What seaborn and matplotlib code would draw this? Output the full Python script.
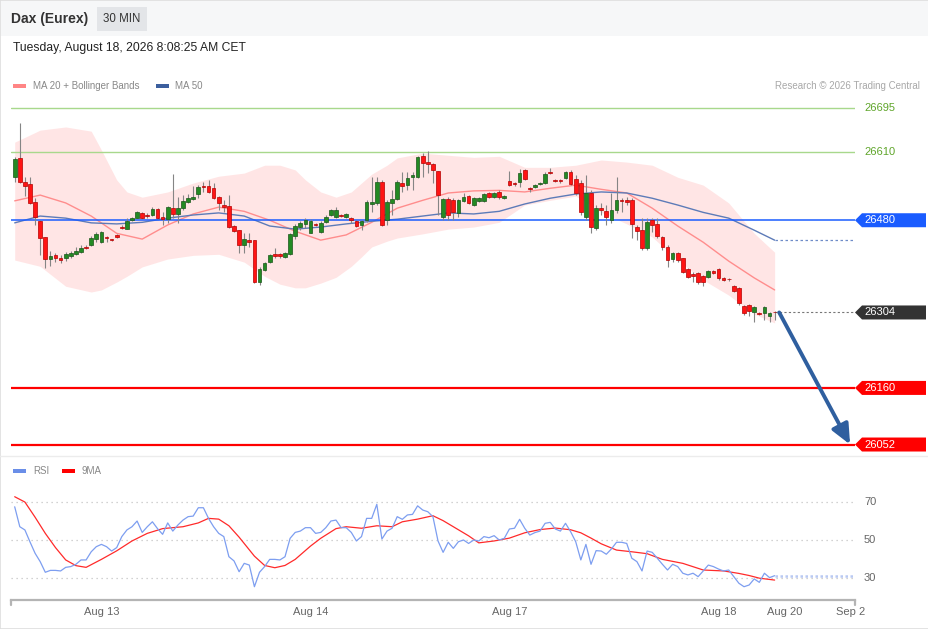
import matplotlib
matplotlib.use("Agg")
import matplotlib.pyplot as plt
import matplotlib.transforms as mtransforms
from matplotlib.lines import Line2D
from matplotlib.patches import Polygon, Rectangle
import numpy as np
import seaborn as sns

# ---- candles (30 min bars) ----
opens = [
    26562, 26599, 26553, 26549, 26515, 26478, 26448, 26406, 26413, 26408,
    26408, 26412, 26415, 26419, 26429, 26433, 26444, 26438, 26448, 26444,
    26452, 26467, 26463, 26480, 26484, 26494, 26490, 26490, 26501, 26486,
    26482, 26503, 26492, 26503, 26515, 26520, 26530, 26545, 26545, 26541,
    26524, 26509, 26507, 26469, 26461, 26433, 26442, 26442, 26362, 26385,
    26400, 26415, 26415, 26410, 26415, 26450, 26467, 26473, 26455, 26473,
    26457, 26476, 26490, 26486, 26490, 26486, 26484, 26478, 26471, 26480,
    26511, 26513, 26553, 26480, 26513, 26520, 26551, 26547, 26562, 26562,
    26602, 26591, 26587, 26574, 26486, 26520, 26518, 26494, 26517, 26526,
    26509, 26517, 26517, 26532, 26524, 26534, 26522, 26555, 26551, 26553,
    26576, 26541, 26543, 26549, 26551, 26572, 26557, 26556, 26560, 26572,
    26558, 26551, 26486, 26532, 26465, 26503, 26497, 26480, 26499, 26518,
    26518, 26518, 26467, 26461, 26427, 26480, 26473, 26448, 26429, 26406,
    26417, 26408, 26387, 26377, 26379, 26373, 26371, 26383, 26387, 26370,
    26368, 26354, 26351, 26316, 26318, 26305, 26303, 26303, 26297, 26305,
]
closes = [
    26597, 26553, 26545, 26513, 26486, 26446, 26406, 26412, 26408, 26404,
    26415, 26417, 26421, 26427, 26427, 26446, 26454, 26457, 26446, 26443,
    26448, 26465, 26478, 26484, 26495, 26484, 26488, 26501, 26484, 26482,
    26505, 26492, 26503, 26517, 26522, 26524, 26543, 26543, 26534, 26522,
    26513, 26505, 26467, 26459, 26433, 26444, 26438, 26362, 26387, 26398,
    26413, 26412, 26412, 26417, 26454, 26469, 26475, 26480, 26478, 26471,
    26475, 26486, 26499, 26499, 26488, 26492, 26480, 26469, 26478, 26515,
    26515, 26553, 26471, 26515, 26520, 26553, 26545, 26560, 26566, 26600,
    26589, 26587, 26576, 26528, 26520, 26490, 26495, 26518, 26524, 26513,
    26522, 26522, 26530, 26524, 26532, 26524, 26526, 26547, 26549, 26570,
    26558, 26539, 26547, 26551, 26568, 26570, 26555, 26554, 26572, 26549,
    26532, 26495, 26532, 26467, 26503, 26499, 26486, 26499, 26518, 26517,
    26515, 26473, 26459, 26427, 26476, 26471, 26450, 26429, 26404, 26417,
    26404, 26381, 26371, 26373, 26362, 26362, 26383, 26379, 26370, 26366,
    26367, 26345, 26322, 26303, 26307, 26314, 26301, 26314, 26303, 26304,
]
highs = [
    26600, 26665, 26562, 26562, 26522, 26480, 26448, 26421, 26417, 26413,
    26419, 26421, 26429, 26433, 26433, 26450, 26457, 26459, 26450, 26445,
    26454, 26471, 26484, 26486, 26497, 26495, 26494, 26505, 26503, 26495,
    26507, 26568, 26524, 26528, 26530, 26545, 26547, 26553, 26557, 26551,
    26526, 26518, 26528, 26471, 26461, 26455, 26455, 26442, 26391, 26400,
    26415, 26427, 26417, 26419, 26455, 26473, 26478, 26484, 26482, 26475,
    26478, 26490, 26501, 26505, 26491, 26494, 26486, 26480, 26480, 26518,
    26562, 26562, 26557, 26518, 26537, 26557, 26572, 26572, 26572, 26602,
    26608, 26612, 26589, 26574, 26522, 26524, 26522, 26520, 26532, 26528,
    26524, 26524, 26532, 26534, 26534, 26537, 26528, 26574, 26553, 26578,
    26578, 26543, 26549, 26553, 26572, 26579, 26558, 26558, 26574, 26576,
    26566, 26557, 26566, 26537, 26509, 26513, 26509, 26532, 26562, 26522,
    26524, 26522, 26471, 26484, 26484, 26484, 26484, 26450, 26433, 26419,
    26419, 26408, 26389, 26381, 26381, 26375, 26385, 26385, 26389, 26371,
    26370, 26356, 26352, 26318, 26320, 26316, 26305, 26316, 26305, 26306,
]
lows = [
    26553, 26551, 26526, 26511, 26471, 26413, 26389, 26392, 26400, 26398,
    26402, 26408, 26413, 26417, 26425, 26431, 26438, 26436, 26438, 26441,
    26446, 26463, 26463, 26478, 26484, 26482, 26484, 26488, 26482, 26471,
    26475, 26484, 26475, 26499, 26513, 26518, 26522, 26534, 26532, 26520,
    26499, 26495, 26465, 26457, 26417, 26417, 26429, 26360, 26356, 26383,
    26398, 26408, 26408, 26408, 26413, 26444, 26461, 26465, 26455, 26469,
    26455, 26475, 26488, 26484, 26486, 26484, 26475, 26467, 26461, 26476,
    26495, 26509, 26469, 26471, 26490, 26518, 26534, 26537, 26537, 26560,
    26562, 26570, 26551, 26490, 26480, 26480, 26480, 26486, 26515, 26511,
    26507, 26515, 26515, 26522, 26522, 26520, 26520, 26545, 26545, 26543,
    26557, 26534, 26541, 26547, 26549, 26568, 26553, 26552, 26558, 26547,
    26528, 26490, 26480, 26455, 26461, 26490, 26471, 26475, 26494, 26495,
    26509, 26446, 26442, 26423, 26423, 26457, 26446, 26423, 26391, 26400,
    26400, 26379, 26370, 26362, 26358, 26354, 26370, 26377, 26366, 26364,
    26365, 26343, 26318, 26299, 26297, 26286, 26299, 26289, 26286, 26289,
]

# ---- Bollinger bands (MA 20) ----
band_idx = [0, 5, 10, 15, 17, 20, 22, 25, 30, 35, 40, 45, 49, 52, 55, 57, 60, 63, 66, 68,
            70, 73, 75, 80, 85, 90, 95, 100, 105, 110, 113, 115, 120, 125, 130, 135, 140, 145, 149]
band_upper = [26629, 26652, 26658, 26650, 26614, 26557, 26534, 26524, 26534, 26551,
              26564, 26570, 26585, 26585, 26576, 26557, 26534, 26524, 26534, 26551,
              26568, 26585, 26599, 26608, 26604, 26600, 26602, 26581, 26581, 26585,
              26591, 26595, 26591, 26585, 26562, 26547, 26513, 26455, 26419]
band_lower = [26404, 26392, 26354, 26343, 26347, 26362, 26373, 26391, 26406, 26413,
              26415, 26400, 26373, 26358, 26351, 26351, 26360, 26371, 26392, 26410,
              26429, 26440, 26446, 26454, 26463, 26467, 26476, 26509, 26518, 26526,
              26509, 26495, 26473, 26448, 26404, 26366, 26337, 26301, 26284]

ma_idx = [0, 5, 10, 15, 20, 25, 30, 35, 40, 45, 50, 55, 60, 65, 70, 75, 80, 85, 90, 95,
          100, 105, 110, 115, 120, 125, 130, 135, 140, 145, 149]
ma20 = [26517, 26528, 26513, 26488, 26455, 26444, 26471, 26492, 26505, 26497,
        26480, 26459, 26442, 26452, 26476, 26503, 26518, 26532, 26536, 26537,
        26534, 26541, 26547, 26539, 26532, 26503, 26469, 26438, 26402, 26370, 26347]
ma50 = [26475, 26488, 26484, 26475, 26473, 26476, 26484, 26490, 26494, 26488,
        26469, 26463, 26467, 26473, 26478, 26482, 26488, 26494, 26492, 26497,
        26511, 26522, 26530, 26534, 26532, 26522, 26509, 26495, 26484, 26461, 26442]

# ---- key levels ----
resistances = [26695, 26610]
pivot = 26480
supports = [26160, 26052]
last_price = 26304

# ---- RSI ----
rsi = [
    67.5, 57, 55.3, 49, 43, 38.6, 33, 34, 34, 33.7,
    35.6, 36, 37.2, 39.5, 39.5, 43.8, 46.5, 47.7, 46.5, 44.2,
    46, 51.8, 55.3, 57, 60, 54, 57, 59.6, 56, 53,
    59, 54.7, 57.9, 60.5, 62.3, 62.6, 67, 67, 61.4, 57,
    53.5, 51.8, 41.2, 39, 33.3, 37.7, 36.8, 25.4, 33, 36,
    39.8, 39.8, 39.5, 41.2, 50.9, 54, 54.7, 56.5, 56.5, 53.5,
    54, 56.5, 60, 60.5, 56.5, 56.5, 54, 49.5, 51.8, 61.4,
    61.4, 68.8, 50.5, 54.7, 56.2, 62.3, 60.9, 63.2, 63.5, 68,
    65.8, 64.9, 62.3, 49.5, 43.5, 48.8, 45.6, 49.1, 50, 48.2,
    50, 49.5, 51.8, 51.2, 52.3, 50, 50.9, 55.8, 56.2, 60.9,
    56.2, 52.6, 53.9, 54.7, 58.8, 59.3, 55.8, 54.7, 58.8, 54.4,
    49.1, 39.5, 47.7, 37.2, 44.4, 44.2, 42.5, 45.3, 48.8, 48.8,
    48.2, 40.4, 38.6, 33.7, 44.2, 43.5, 40.4, 37.2, 34.2, 37.2,
    36, 32.5, 31.6, 32.5, 30.7, 33.7, 36.8, 36, 34.7, 33.7,
    34.2, 30.7, 27.2, 25.4, 26.3, 29.5, 27.7, 32.5, 30.2, 31.2,
]
ma9_idx = [0, 2, 4, 6, 8, 10, 12, 14, 17, 20, 23, 26, 29, 33, 36, 38, 40, 42, 44, 47,
           49, 51, 53, 55, 58, 60, 63, 65, 68, 71, 74, 76, 79, 82, 84, 86, 89, 91, 94, 97,
           100, 103, 106, 109, 111, 113, 115, 118, 121, 124, 127, 131, 135, 139, 142, 144, 146, 149]
rsi_ma9 = [72.8, 70, 62, 53.5, 46, 39.5, 36.5, 35.6, 39.8, 44.3, 49.5, 53.5, 56, 57, 59,
           61.4, 61, 57.5, 51.5, 41.5, 36.6, 35.4, 36.6, 39.8, 46.8, 50.9, 56, 57, 56.2,
           57.5, 57, 59.6, 61, 62.8, 60.2, 57, 52.2, 48.5, 49.5, 51, 53.8, 55.5, 56.3,
           55.4, 53.8, 51, 48, 44.7, 43.8, 42.8, 39.8, 37.7, 34.2, 33.7, 32.4, 31.3, 29.9, 28.9]
rsi_levels = [70, 50, 30]

tick_pos = [17, 58, 97, 138, 151, 164]
tick_labels = ["Aug 13", "Aug 14", "Aug 17", "Aug 18", "Aug 20", "Sep 2"]

# ---- layout (pixels of a 929 x 629 canvas) ----
W, H = 929, 629


def fx(px):
    return px / W


def fy(py):
    return 1 - py / H


X_LEFT, X_RIGHT = 11, 855
XLIM = (-0.725, 164.76)
PRICE_LIM = (26032, 26719)
RSI_LIM = (18.4, 93.2)
AX_W_PX = X_RIGHT - X_LEFT

sns.set_theme(style="white")
plt.rcParams["font.family"] = ["Liberation Sans", "DejaVu Sans"]

fig = plt.figure(figsize=(9.29, 6.29), dpi=100)
fig.patch.set_facecolor("white")

# header band and frame
fig.add_artist(Rectangle((0, fy(36)), 1, 36 / H, transform=fig.transFigure,
                         facecolor="#f6f7f8", edgecolor="none", zorder=-2))
fig.add_artist(Rectangle((fx(97), fy(31)), 50 / W, 24 / H, transform=fig.transFigure,
                         facecolor="#e3e5e8", edgecolor="none", zorder=-1))
fig.add_artist(Rectangle((0, 0), 1, 1, transform=fig.transFigure, fill=False,
                         edgecolor="#dedede", lw=1.2))
fig.add_artist(Line2D([0, 1], [fy(456), fy(456)], transform=fig.transFigure,
                      color="#ececec", lw=1))

fig.text(fx(11), fy(19), "Dax (Eurex)", fontsize=10, fontweight="bold",
         color="#333333", va="center", ha="left")
fig.text(fx(122), fy(19), "30 MIN", fontsize=8.3, color="#333333", va="center", ha="center")
fig.text(fx(13), fy(48), "Tuesday, August 18, 2026 8:08:25 AM CET", fontsize=8.7,
         color="#222222", va="center", ha="left")

# legends
fig.add_artist(Rectangle((fx(13), fy(88)), 13 / W, 4 / H, transform=fig.transFigure,
                         facecolor="#ff8585", edgecolor="none"))
fig.text(fx(33), fy(86), "MA 20 + Bollinger Bands", fontsize=7, color="#888888", va="center")
fig.add_artist(Rectangle((fx(156), fy(88)), 13 / W, 4 / H, transform=fig.transFigure,
                         facecolor="#3c5f9e", edgecolor="none"))
fig.text(fx(175), fy(86), "MA 50", fontsize=7, color="#888888", va="center")
fig.text(fx(920), fy(86), "Research \u00a9 2026 Trading Central", fontsize=7,
         color="#a8a8a8", va="center", ha="right")

fig.add_artist(Rectangle((fx(13), fy(473)), 13 / W, 4 / H, transform=fig.transFigure,
                         facecolor="#6a8ee8", edgecolor="none"))
fig.text(fx(33), fy(471), "RSI", fontsize=7, color="#888888", va="center")
fig.add_artist(Rectangle((fx(62), fy(473)), 13 / W, 4 / H, transform=fig.transFigure,
                         facecolor="#ff0000", edgecolor="none"))
fig.text(fx(82), fy(471), "9MA", fontsize=7, color="#888888", va="center")

# ---- price panel ----
ax = fig.add_axes([fx(X_LEFT), fy(455), fx(X_RIGHT) - fx(X_LEFT), fy(95) - fy(455)])
ax.set_xlim(*XLIM)
ax.set_ylim(*PRICE_LIM)
ax.set_facecolor("none")
for s in ax.spines.values():
    s.set_visible(False)
ax.set_xticks([])
ax.set_yticks([])

o = np.array(opens, dtype=float)
c = np.array(closes, dtype=float)
hi = np.array(highs, dtype=float)
lo = np.array(lows, dtype=float)
idx = np.arange(len(c))
last = idx[-1]

ax.fill_between(band_idx, band_lower, band_upper, color="#ffe1e1", alpha=0.85, lw=0, zorder=1)
sns.lineplot(x=ma_idx, y=ma20, ax=ax, color="#ff8d8d", lw=1.0, zorder=2)
sns.lineplot(x=ma_idx, y=ma50, ax=ax, color="#5d7bb8", lw=1.0, zorder=2)

for r in resistances:
    ax.axhline(r, color="#a8d88c", lw=1.0, zorder=2)
ax.axhline(pivot, color="#1a5cff", lw=1.1, zorder=2)
for s in supports:
    ax.axhline(s, color="#ff0000", lw=1.6, zorder=2)

ax.hlines(last_price, last, XLIM[1], colors="#777777", linestyles=(0, (2, 2)), lw=0.8, zorder=2)
ax.hlines(ma50[-1], last, XLIM[1], colors="#6f8cc8", linestyles=(0, (2, 2)), lw=0.9, zorder=2)

# candles
up = c >= o
ax.vlines(idx, lo, hi, color="#858585", lw=0.8, zorder=3)
ax.bar(idx, np.abs(c - o), bottom=np.minimum(o, c), width=0.72,
       color=np.where(up, "#238a23", "#ff1414"),
       edgecolor=np.where(up, "#1a551a", "#b40000"), linewidth=0.5, zorder=4)

# projection arrow toward the second support
ax.annotate("", xy=(163.8, supports[1]), xytext=(last + 0.9, last_price),
            arrowprops=dict(arrowstyle="-|>,head_length=1.0,head_width=0.45",
                            color="#2f5f9f", lw=2.8, shrinkA=0, shrinkB=0), zorder=5)

# right-hand price labels
trans = mtransforms.blended_transform_factory(ax.transAxes, ax.transData)
px_per_price = (455 - 95) / (PRICE_LIM[1] - PRICE_LIM[0])
half = 7 / px_per_price
x_tip, x_body, x_end = 1.0, 1 + 7 / AX_W_PX, 1 + 71 / AX_W_PX
x_txt = 1 + 9 / AX_W_PX


def tag(value, face):
    poly = Polygon([(x_tip, value), (x_body, value + half), (x_end, value + half),
                    (x_end, value - half), (x_body, value - half)],
                   closed=True, transform=trans, clip_on=False,
                   facecolor=face, edgecolor="none", zorder=6)
    ax.add_patch(poly)
    ax.text(x_txt, value, str(value), transform=trans, color="white", fontsize=8,
            va="center", ha="left", clip_on=False, zorder=7)


for r in resistances:
    ax.text(x_txt, r, str(r), transform=trans, color="#5fa52a", fontsize=8,
            va="center", ha="left", clip_on=False)
tag(pivot, "#1a5cff")
tag(last_price, "#333333")
for s in supports:
    tag(s, "#ff0000")

# ---- RSI panel ----
ax_rsi = fig.add_axes([fx(X_LEFT), fy(600), fx(X_RIGHT) - fx(X_LEFT), fy(458) - fy(600)])
ax_rsi.set_xlim(*XLIM)
ax_rsi.set_ylim(*RSI_LIM)
ax_rsi.set_facecolor("none")
for name, s in ax_rsi.spines.items():
    s.set_visible(name == "bottom")
ax_rsi.spines["bottom"].set_color("#b4b4b4")
ax_rsi.spines["bottom"].set_linewidth(1.6)

rsi_trans = mtransforms.blended_transform_factory(ax_rsi.transAxes, ax_rsi.transData)
for lvl in rsi_levels:
    ax_rsi.axhline(lvl, color="#c4c4c4", ls=(0, (1, 3)), lw=0.9, zorder=1)
    ax_rsi.text(x_txt, lvl, str(lvl), transform=rsi_trans, color="#666666", fontsize=8,
                va="center", ha="left", clip_on=False)

sns.lineplot(x=idx, y=rsi, ax=ax_rsi, color="#7d9ef0", lw=0.9, zorder=3)
sns.lineplot(x=ma9_idx, y=rsi_ma9, ax=ax_rsi, color="#ff2a2a", lw=0.9, zorder=2)
ax_rsi.hlines(rsi[-1], last, XLIM[1], colors="#b9c9f3", linestyles=(0, (1, 1)), lw=1.8, zorder=2)

ax_rsi.set_yticks([])
ax_rsi.set_xticks(tick_pos)
ax_rsi.set_xticklabels(tick_labels)
ax_rsi.tick_params(axis="x", length=0, pad=5, labelsize=8, labelcolor="#666666")
ax_rsi.set_xlabel("")
ax_rsi.set_ylabel("")
ax.set_xlabel("")
ax.set_ylabel("")
for xe in (0, 1):
    ax_rsi.plot([xe, xe], [0, -5 / 142], transform=ax_rsi.transAxes, color="#b4b4b4",
                lw=1.6, clip_on=False)

fig.savefig("out.png", dpi=100)
